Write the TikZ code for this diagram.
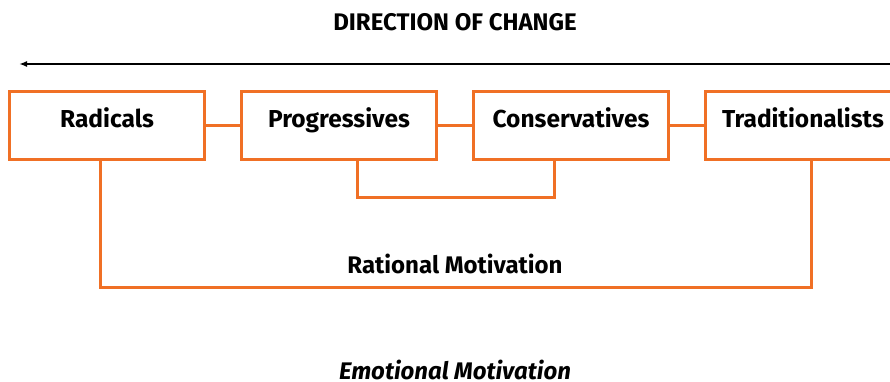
\documentclass[tikz,border=0pt]{standalone}
\usepackage{fontspec}
\setmainfont{Fira Sans}
\usetikzlibrary{positioning,arrows.meta}
\definecolor{orng}{HTML}{F07025}

\begin{document}
\begin{tikzpicture}[x=1pt,y=1pt]
\tikzstyle{every node}+=[inner sep=0pt]
\tikzstyle{group}=[draw=orng, line width=3pt, minimum width=195pt, minimum height=68pt, text height=17pt, text depth=12pt, font=\fontsize{24.5}{28}\selectfont\bfseries]
\tikzstyle{link}=[draw=orng, line width=3pt]
\tikzstyle{caption}=[anchor=base, font=\fontsize{24}{28}\selectfont\bfseries]
\clip (0,0) rectangle (890,-382);
\node (title) [caption] at (455,-31) {DIRECTION OF CHANGE};
\coordinate (from) at (892,-64);
\coordinate (to) at (19,-64);
\draw [line width=2pt, -{Latex[length=8pt,width=6pt]}] (from) -- (to);
\node (rad) [group] at (107,-125.5) {Radicals};
\node (prog) [group, right=34pt of rad] {Progressives};
\node (cons) [group, right=34pt of prog] {Conservatives};
\node (trad) [group, right=34pt of cons] {Traditionalists};
\draw [link] (rad) -- (prog);
\draw [link] (prog) -- (cons);
\draw [link] (cons) -- (trad);
\draw [link] ([xshift=18pt]prog.south) -- ++(0,-36) -| ([xshift=-17pt]cons.south);
\draw [link] ([xshift=-7pt]rad.south) -- ++(0,-126.5) -| ([xshift=8pt]trad.south);
\node (rational) [caption] at (455,-273) {Rational Motivation};
\node (emotional) [caption, font=\fontsize{24}{28}\selectfont\bfseries\itshape] at (455,-379) {Emotional Motivation};
\end{tikzpicture}
\end{document}
